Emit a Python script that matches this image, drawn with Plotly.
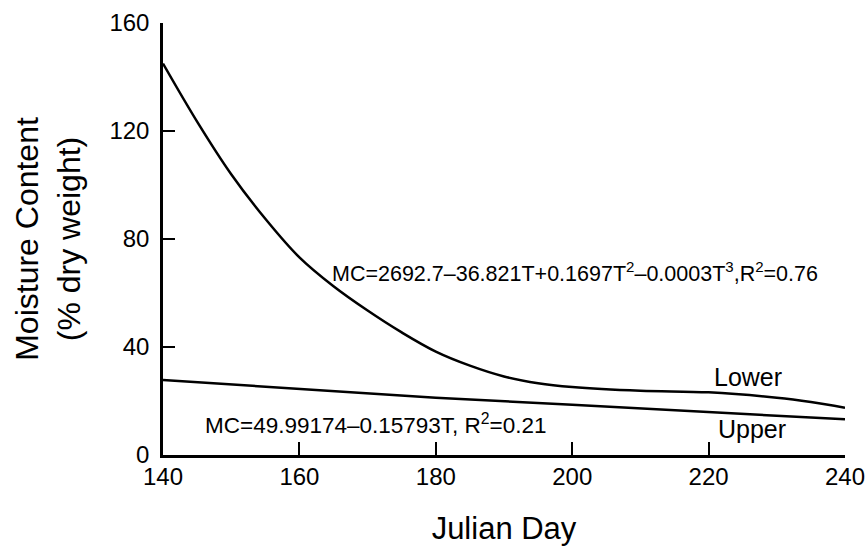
import plotly.graph_objects as go

# Values
lower_day = [140, 145, 150, 155, 160, 165, 170, 175, 180, 185, 190,
             195, 200, 210, 220, 230, 235, 240]
lower_mc = [145, 123.5, 104, 87.5, 73.2, 62.5, 53.5, 45.4, 38.3, 33.1, 29.1,
            26.6, 25.2, 23.8, 23.2, 21.2, 19.6, 17.5]

upper_day = [140, 160, 180, 200, 220, 240]
upper_mc = [27.8, 24.5, 21.2, 18.6, 16.0, 13.2]

x_ticks = [140, 160, 180, 200, 220, 240]
y_ticks = [0, 40, 80, 120, 160]

lower_eq = "MC=2692.7–36.821T+0.1697T<sup>2</sup>–0.0003T<sup>3</sup>,R<sup>2</sup>=0.76"
upper_eq = "MC=49.99174–0.15793T, R<sup>2</sup>=0.21"

FONT = "Liberation Sans, Arial, Helvetica, sans-serif"

fig = go.Figure()

fig.add_trace(go.Scatter(
    x=lower_day, y=lower_mc, mode="lines",
    line={"color": "black", "width": 2.5, "shape": "spline", "smoothing": 1.0},
    name="Lower"
))
fig.add_trace(go.Scatter(
    x=upper_day, y=upper_mc, mode="lines",
    line={"color": "black", "width": 2.5},
    name="Upper"
))

annotations = [
    {"x": 164.5, "y": 67.7, "text": lower_eq, "xanchor": "left", "font_size": 21.5},
    {"x": 145.9, "y": 11.5, "text": upper_eq, "xanchor": "left", "font_size": 22.5},
    {"x": 225.8, "y": 29, "text": "Lower", "xanchor": "center", "font_size": 25},
    {"x": 226.4, "y": 9.5, "text": "Upper", "xanchor": "center", "font_size": 25},
]
for a in annotations:
    fig.add_annotation(
        x=a["x"], y=a["y"], text=a["text"], xanchor=a["xanchor"], yanchor="middle",
        showarrow=False, font={"family": FONT, "size": a["font_size"], "color": "black"}
    )

fig.update_layout(
    width=868, height=546,
    margin={"l": 163, "r": 23, "t": 23, "b": 91},
    paper_bgcolor="white", plot_bgcolor="white",
    showlegend=False,
    font={"family": FONT, "color": "black"}
)

fig.update_xaxes(
    range=[140, 240], tickvals=x_ticks, automargin=False,
    ticks="inside", ticklen=13, tickwidth=2, tickcolor="black",
    showline=True, linecolor="black", linewidth=2.5,
    showgrid=False, zeroline=False,
    tickfont={"size": 24}, ticklabelstandoff=-2,
    title={"text": "Julian Day", "font": {"size": 31}, "standoff": 30}
)
fig.update_yaxes(
    range=[0, 160], tickvals=y_ticks, automargin=False,
    ticks="inside", ticklen=12, tickwidth=2, tickcolor="black",
    showline=True, linecolor="black", linewidth=2.5,
    showgrid=False, zeroline=False,
    tickfont={"size": 24}, ticklabelstandoff=6,
    title={"text": "Moisture Content<br>(% dry weight)", "font": {"size": 32}, "standoff": 20}
)

# drop the browser's default body margin so the figure sits at the page corner
fig.write_html(
    "out.html",
    config={"displayModeBar": False},
    post_script="document.body.style.margin = '0';"
)
